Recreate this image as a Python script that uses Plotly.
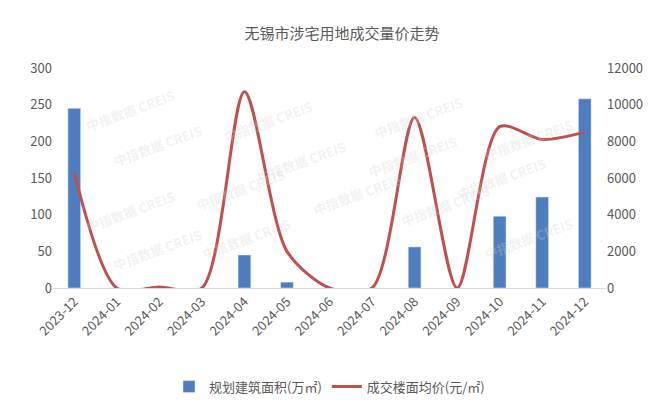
import plotly.graph_objects as go

months = ["2023-12", "2024-01", "2024-02", "2024-03", "2024-04", "2024-05", "2024-06",
          "2024-07", "2024-08", "2024-09", "2024-10", "2024-11", "2024-12"]
area = [245, 0, 0, 0, 45, 8, 0, 0, 56, 0, 98, 124, 258]
price = [6300, 0, 50, 0, 10700, 2000, 0, 0, 9300, 0, 8800, 8100, 8500]

fig = go.Figure()
fig.add_trace(go.Bar(x=months, y=area, name="规划建筑面积(万㎡)",
                     marker_color="#4F7EC0", width=0.3))
fig.add_trace(go.Scatter(x=months, y=price, name="成交楼面均价(元/㎡)", yaxis="y2",
                         mode="lines", line=dict(color="#C0504D", width=3, shape="spline", smoothing=0.8)))

# watermark
for x, y in [(0.05, 0.93), (0.3, 0.88), (0.75, 0.9), (0.95, 0.8), (0.1, 0.65),
             (0.45, 0.7), (0.65, 0.6), (0.9, 0.5), (0.25, 0.45), (0.05, 0.35),
             (0.55, 0.3), (0.8, 0.25), (0.35, 0.1), (0.95, 0.1), (0.1, 0.05)]:
    fig.add_annotation(x=x, y=y, xref="paper", yref="paper", text="<b>中指数据 CREIS</b>",
                       showarrow=False, textangle=-20,
                       font=dict(size=13, color="rgba(210,210,210,0.3)"))

fig.update_layout(
    title=dict(text="无锡市涉宅用地成交量价走势", x=0.5, y=0.95,
               font=dict(size=15, color="#595959")),
    width=668, height=405,
    margin=dict(l=45, r=70, t=60, b=120),
    plot_bgcolor="white", paper_bgcolor="white",
    font=dict(family="Noto Sans CJK SC", size=13, color="#595959"),
    xaxis=dict(type="category", tickangle=-45, showline=True, linecolor="#D9D9D9", ticks=""),
    yaxis=dict(range=[0, 300], dtick=50, showgrid=False, zeroline=False),
    yaxis2=dict(range=[0, 12000], dtick=2000, overlaying="y", side="right",
                showgrid=False, zeroline=False, tickformat="d"),
    legend=dict(orientation="h", x=0.5, xanchor="center", y=-0.38, font=dict(size=13)),
    bargap=0.6,
)
fig.write_html("out.html")
